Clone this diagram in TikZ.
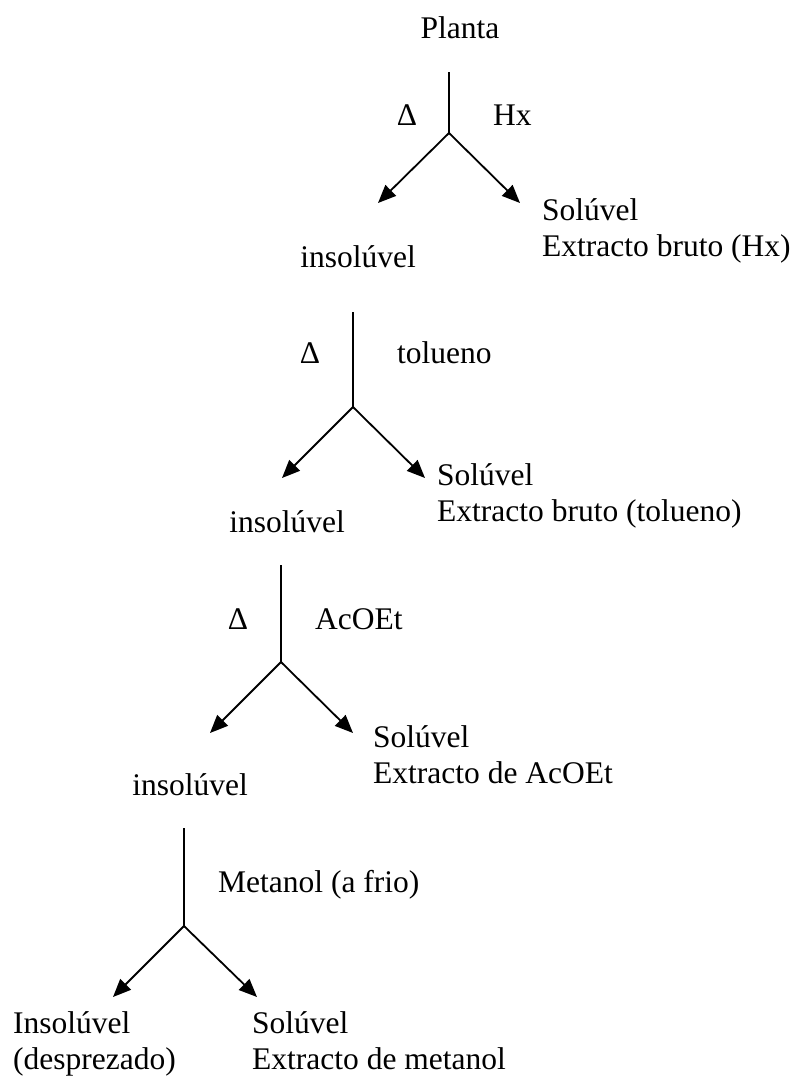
\documentclass[tikz,border=0pt]{standalone}
\usepackage{fontspec}
\setmainfont{Liberation Serif}
\usetikzlibrary{arrows.meta, positioning, calc}

\begin{document}
\begin{tikzpicture}[x=1pt, y=-1pt, font=\fontsize{31.5}{36}\selectfont,
  txt/.style = {inner sep=0pt, anchor=base west},
  ctxt/.style = {inner sep=0pt, anchor=base},
  stem/.style = {line width=1.8pt},
  arrow/.style = {-{Triangle[length=18pt, width=15pt]}, line width=1.8pt}
]
\useasboundingbox (0,0) rectangle (794,1077);
% extraction with Hx
\node[ctxt] (planta) at (460,38) {Planta};
\coordinate (top_a) at (449,72);
\coordinate (fork_a) at (449,133);
\coordinate (tip_al) at (378,203);
\coordinate (tip_ar) at (520,203);
\node[ctxt] (heat_a) at (407,125) {Δ};
\node[txt] (solv_a) at (493,125) {Hx};
\node[txt] (sol_a) at (542,220) {Solúvel};
\node[txt] (ext_a) at (542,256) {Extracto bruto (Hx)};
\node[ctxt] (insol_a) at (358,267) {insolúvel};
\draw[stem] (top_a) -- (fork_a);
\draw[arrow] (fork_a) -- (tip_al);
\draw[arrow] (fork_a) -- (tip_ar);
% extraction with tolueno
\coordinate (top_b) at (353,312);
\coordinate (fork_b) at (353,407);
\coordinate (tip_bl) at (282,478);
\coordinate (tip_br) at (425,478);
\node[ctxt] (heat_b) at (310,363) {Δ};
\node[txt] (solv_b) at (397,363) {tolueno};
\node[txt] (sol_b) at (437,485) {Solúvel};
\node[txt] (ext_b) at (437,521) {Extracto bruto (tolueno)};
\node[ctxt] (insol_b) at (287,532) {insolúvel};
\draw[stem] (top_b) -- (fork_b);
\draw[arrow] (fork_b) -- (tip_bl);
\draw[arrow] (fork_b) -- (tip_br);
% extraction with AcOEt
\coordinate (top_c) at (281,565);
\coordinate (fork_c) at (281,662);
\coordinate (tip_cl) at (210,733);
\coordinate (tip_cr) at (353,733);
\node[ctxt] (heat_c) at (238,629) {Δ};
\node[txt] (solv_c) at (315,629) {AcOEt};
\node[txt] (sol_c) at (373,747) {Solúvel};
\node[txt] (ext_c) at (373,783) {Extracto de AcOEt};
\node[ctxt] (insol_c) at (190,795) {insolúvel};
\draw[stem] (top_c) -- (fork_c);
\draw[arrow] (fork_c) -- (tip_cl);
\draw[arrow] (fork_c) -- (tip_cr);
% extraction with metanol
\coordinate (top_d) at (184,828);
\coordinate (fork_d) at (184,926);
\coordinate (tip_dl) at (113,997);
\coordinate (tip_dr) at (257,997);
\node[txt] (solv_d) at (218,892) {Metanol (a frio)};
\node[txt] (insol_d) at (13,1033) {Insolúvel};
\node[txt] (desp_d) at (13,1069) {(desprezado)};
\node[txt] (sol_d) at (252,1033) {Solúvel};
\node[txt] (ext_d) at (252,1069) {Extracto de metanol};
\draw[stem] (top_d) -- (fork_d);
\draw[arrow] (fork_d) -- (tip_dl);
\draw[arrow] (fork_d) -- (tip_dr);
\end{tikzpicture}
\end{document}
